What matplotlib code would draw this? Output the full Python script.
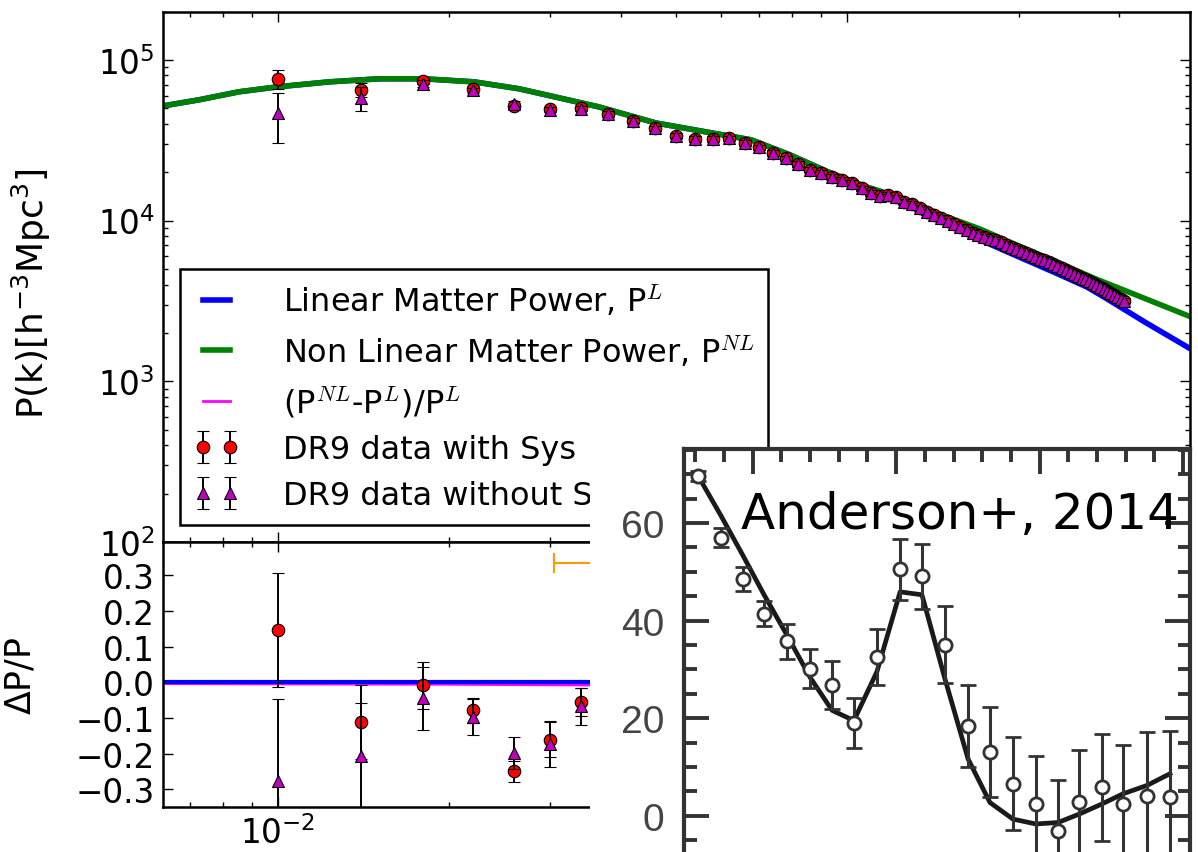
import matplotlib
matplotlib.use("Agg")
import matplotlib.pyplot as plt
from matplotlib.patches import Rectangle
from matplotlib.ticker import FixedLocator, MultipleLocator

plt.rcParams['font.family'] = ['DejaVu Sans']
plt.rcParams['mathtext.fontset'] = 'dejavusans'

# ---------------- model curves (main panel) ----------------
k_nl = [0.0063, 0.00726, 0.00854, 0.0100, 0.0123, 0.0151, 0.0180, 0.0221, 0.0265,
        0.0301, 0.0366, 0.0461, 0.0581, 0.0678, 0.0794, 0.0925, 0.108, 0.126,
        0.147, 0.171, 0.200, 0.233, 0.273, 0.318, 0.401]
p_nl = [51800, 56400, 63300, 68000, 73000, 76300, 76300, 73000, 66100,
        59700, 51000, 40500, 35000, 31800, 25600, 20100, 16200, 13600,
        10800, 8870, 6960, 5540, 4340, 3500, 2520]

k_lin = [0.0063, 0.00726, 0.00854, 0.0100, 0.0123, 0.0151, 0.0180, 0.0221, 0.0265,
         0.0301, 0.0366, 0.0461, 0.0581, 0.0678, 0.0794, 0.0925, 0.108, 0.126,
         0.140, 0.171, 0.200, 0.233, 0.264, 0.285, 0.333, 0.401]
p_lin = [51800, 56400, 63300, 68000, 73000, 76300, 76300, 73000, 66100,
         59700, 51000, 40500, 35000, 31800, 25600, 20100, 16200, 13600,
         11400, 7600, 5950, 4700, 3850, 3280, 2340, 1590]

# ---------------- DR9 measurements (main panel) ----------------
k_data = [0.010, 0.014, 0.018, 0.022, 0.026, 0.030, 0.034, 0.038, 0.042, 0.046,
          0.050, 0.054, 0.058, 0.062, 0.066, 0.070, 0.074, 0.078, 0.082, 0.086,
          0.090, 0.094, 0.098, 0.102, 0.106, 0.110, 0.114, 0.118, 0.122, 0.126,
          0.130, 0.134, 0.138, 0.142, 0.146, 0.150, 0.154, 0.158, 0.162, 0.166,
          0.170, 0.174, 0.178, 0.182, 0.186, 0.190, 0.194, 0.198, 0.202, 0.206,
          0.210, 0.214, 0.218, 0.222, 0.226, 0.230, 0.234, 0.238, 0.242, 0.246,
          0.250, 0.254, 0.258, 0.262, 0.266, 0.270, 0.274, 0.278, 0.282, 0.286,
          0.290, 0.294, 0.298, 0.302, 0.306]
p_sys = [76200, 65100, 74000, 66000, 52000, 49600, 50300, 46100, 41900, 37600,
         33800, 32250, 32250, 32570, 30450, 28630, 26380, 24450, 22530, 20770,
         19810, 18790, 17990, 17160, 15910, 14870, 14180, 14450, 13980, 13130,
         12700, 12000, 11330, 10850, 10390, 9960, 9540, 9140, 8750, 8390,
         8150, 7920, 7690, 7590, 7370, 7060, 6860, 6670, 6480, 6300,
         6120, 5940, 5780, 5690, 5530, 5380, 5230, 5080, 4930, 4800,
         4660, 4530, 4400, 4340, 4210, 4100, 3980, 3870, 3760, 3650,
         3550, 3450, 3350, 3260, 3170]
err_tail = [1800, 1600, 1450, 1300, 1250, 1250, 1250, 1150, 1100, 1000,
            950, 850, 800, 760, 720, 690, 660, 610, 570, 540,
            550, 530, 500, 490, 460, 430, 420, 400, 380, 370,
            350, 340, 320, 310, 300, 300, 290, 280, 270, 260,
            260, 250, 240, 240, 230, 220, 220, 210, 210, 200,
            200, 190, 190, 180, 180, 170, 170, 160, 160, 150,
            150, 150, 140, 140, 130, 130, 130, 120]
err_sys = [10500, 6500, 3200, 2300, 1700, 1500, 1300] + err_tail
p_nosys = [46500, 58000, 71000, 64700, 53500, 49000, 49700] + p_sys[7:]
err_nosys = [16000, 10000, 3500, 2600, 2000, 1800, 1600] + err_tail

# ---------------- residual panel ----------------
k_res = [0.010, 0.014, 0.018, 0.022, 0.026, 0.030, 0.034]
res_sys = [0.147, -0.112, -0.009, -0.079, -0.250, -0.161, -0.056]
res_sys_err = [0.160, 0.103, 0.065, 0.035, 0.030, 0.050, 0.040]
res_nosys = [-0.276, -0.206, -0.045, -0.098, -0.198, -0.173, -0.068]
res_nosys_err = [0.230, 0.148, 0.088, 0.050, 0.045, 0.065, 0.053]
k_ratio = [0.0063, 0.010, 0.020, 0.035, 0.050, 0.100, 0.200, 0.401]
ratio_nl = [-0.004, -0.005, -0.006, -0.008, -0.010, -0.012, 0.02, 0.4]
ratio_lin = [0, 0, 0, 0, 0, 0, 0, 0]
k_orange, y_orange = 0.08, 0.333
xerr_orange = [[0.0495], [0.05]]

# ---------------- inset (Anderson+ 2014) ----------------
s_and = [31.0, 39.0, 46.7, 54.0, 62.0, 70.0, 77.7, 85.3, 93.3, 101.4, 109.0,
         117.0, 125.1, 132.7, 140.7, 148.7, 156.4, 163.7, 171.7, 179.1, 187.4, 195.4]
xi_and = [69.7, 57.0, 48.5, 41.4, 35.8, 30.1, 26.8, 19.0, 32.5, 50.5, 49.1,
          35.1, 18.4, 13.0, 6.6, 2.3, -3.2, 2.9, 5.8, 2.4, 4.1, 3.9]
xi_err = [1.0, 2.0, 2.5, 2.6, 3.6, 4.0, 4.9, 5.1, 5.8, 6.2, 6.7,
          7.8, 8.5, 9.2, 9.6, 10.0, 10.5, 10.6, 11.0, 12.0, 13.0, 13.5]
xi_model = [69.7, 61.5, 53.3, 45.3, 37.0, 28.4, 21.6, 19.5, 29.5, 45.9, 45.3,
            28.1, 11.6, 2.7, -0.7, -1.7, -1.4, 0.3, 2.4, 4.5, 6.2, 8.6]

W, H = 1198, 853
fig = plt.figure(figsize=(W / 100, H / 100), dpi=100)


def fx(px):
    return px / W


def fy(py):
    return 1 - py / H


L, R = 163, 1190
ax1 = fig.add_axes([fx(L), fy(543), fx(R) - fx(L), fy(12.5) - fy(543)])
ax2 = fig.add_axes([fx(L), fy(808), fx(R) - fx(L), fy(543) - fy(808)], sharex=ax1)

h_lin, = ax1.plot(k_lin, p_lin, color='#0000ff', lw=4, zorder=2,
                  label='Linear Matter Power, P$^{L}$')
h_nl, = ax1.plot(k_nl, p_nl, color='#008000', lw=4, zorder=2.1,
                 label='Non Linear Matter Power, P$^{NL}$')
h_sys = ax1.errorbar(k_data, p_sys, yerr=err_sys, fmt='o', color='red', mec='black',
                     mew=0.8, ms=9, ecolor='black', elinewidth=1.4, capsize=4.5,
                     capthick=1.4, zorder=3, label='DR9 data with Sys')
h_nosys = ax1.errorbar(k_data, p_nosys, yerr=err_nosys, fmt='^', color='#bf00bf',
                       mec='black', mew=0.8, ms=9, ecolor='black', elinewidth=1.4,
                       capsize=4.5, capthick=1.4, zorder=4, label='DR9 data without Sys')

ax2.plot(k_ratio, ratio_lin, color='#0000ff', lw=3, zorder=2)
h_ratio, = ax2.plot(k_ratio, ratio_nl, color='#ff00ff', lw=2, zorder=1.9,
                    label='(P$^{NL}$-P$^{L}$)/P$^{L}$')
ax2.errorbar(k_res, res_sys, yerr=res_sys_err, fmt='o', color='red', mec='black',
             mew=0.8, ms=9, ecolor='black', elinewidth=1.4, capsize=4.5,
             capthick=1.4, zorder=3)
ax2.errorbar(k_res, res_nosys, yerr=res_nosys_err, fmt='^', color='#bf00bf', mec='black',
             mew=0.8, ms=9, ecolor='black', elinewidth=1.4, capsize=4.5,
             capthick=1.4, zorder=4)
ax2.errorbar([k_orange], [y_orange], xerr=xerr_orange, fmt='none', ecolor='#ff9900',
             elinewidth=1.5, capsize=7, capthick=1.5)

ax1.set_xscale('log')
ax1.set_yscale('log')
ax1.set_xlim(0.00628, 0.400)
ax1.set_ylim(100, 2.0e5)
ax2.set_ylim(-0.35, 0.393)
ax2.yaxis.set_major_locator(FixedLocator([-0.3, -0.2, -0.1, 0.0, 0.1, 0.2, 0.3]))

for ax in (ax1, ax2):
    ax.tick_params(which='both', direction='in', top=True, right=True,
                   labelsize=23.5, pad=6, width=1)
    ax.tick_params(which='major', length=7)
    ax.tick_params(which='minor', length=3.5)
    for sp in ax.spines.values():
        sp.set_linewidth(1.8)
ax1.tick_params(labelbottom=False)

ax1.set_ylabel(r'P(k)[h$^{-3}$Mpc$^{3}$]', fontsize=26)
ax1.yaxis.set_label_coords(-0.107, 0.47)
ax2.set_ylabel(r'$\Delta$P/P', fontsize=25)
ax2.yaxis.set_label_coords(-0.122, 0.5)

leg = ax1.legend(handles=[h_lin, h_nl, h_ratio, h_sys, h_nosys], loc='upper left',
                 bbox_to_anchor=(fx(180), fy(270)), bbox_transform=fig.transFigure,
                 borderaxespad=0, fontsize=23, numpoints=2, handlelength=1.45,
                 handletextpad=1.35, borderpad=0.42, labelspacing=0.47,
                 fancybox=False, framealpha=1, edgecolor='black')
leg.get_frame().set_linewidth(1.8)
for t in leg.get_texts():
    t.set_math_fontfamily('cm')

# white background of the pasted comparison figure
fig.add_artist(Rectangle((fx(590), 0), 1 - fx(590), fy(449), transform=fig.transFigure,
                         facecolor='white', edgecolor='none', zorder=5))

# inset axes: y=0 at px 816.7, 4.875 px per unit; top spine at px 450
y_lo, y_hi = -15, 75.2
px_bottom = 816.7 - y_lo * 4.875
axin = fig.add_axes([fx(684), fy(px_bottom), fx(1190) - fx(684), fy(450) - fy(px_bottom)])
axin.set_zorder(10)
axin.set_facecolor('white')
grey = '#333333'
axin.plot(s_and, xi_model, color='#1a1a1a', lw=3.4, zorder=2)
axin.errorbar(s_and, xi_and, yerr=xi_err, fmt='o', mfc='white', mec=grey, mew=2,
              ms=9.5, ecolor=grey, elinewidth=2.2, capsize=5.5, capthick=2.2, zorder=3)
axin.set_xlim(26.1, 202.4)
axin.set_ylim(y_lo, y_hi)
axin.xaxis.set_major_locator(FixedLocator([50, 100, 150, 200]))
axin.xaxis.set_minor_locator(MultipleLocator(10))
axin.yaxis.set_major_locator(FixedLocator([0, 20, 40, 60]))
axin.yaxis.set_minor_locator(MultipleLocator(5))
axin.tick_params(which='both', direction='in', top=True, right=True, color=grey,
                 width=2.8, labelbottom=False, labelcolor='#444444', labelsize=28, pad=14)
axin.tick_params(which='major', length=18)
axin.tick_params(which='minor', length=9)
for t in axin.get_yticklabels():
    t.set_fontfamily('Liberation Sans')
for sp in axin.spines.values():
    sp.set_linewidth(3)
    sp.set_color(grey)
axin.text(0.545, 0.852, 'Anderson+, 2014', transform=axin.transAxes, ha='center',
          va='center', fontsize=36, color='black', zorder=5)

fig.savefig('out.png', dpi=100)
